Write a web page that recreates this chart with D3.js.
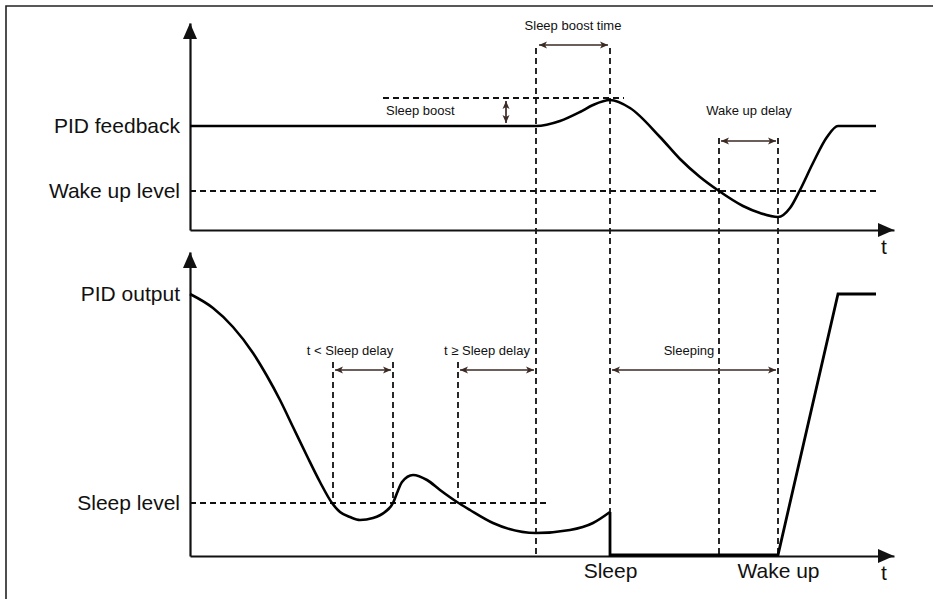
<!DOCTYPE html>
<html><head><meta charset="utf-8">
<script src="https://cdn.jsdelivr.net/npm/d3@7"></script>
<style>
body{margin:0;background:#fff}
svg{display:block}
text{font-family:"Liberation Sans",Arial,Helvetica,sans-serif;fill:#111}
</style>
</head><body>
<svg id="c" width="933" height="599"></svg>
<script>
// ---------- data (time in arbitrary units, values in arbitrary units) ----------
const levelNamesTop = ["PID feedback", "Wake up level"];
const levelValuesTop = [104, 39];
const levelNamesBottom = ["PID output", "Sleep level"];
const levelValuesBottom = [262, 53];
const eventNames = ["Sleep", "Wake up"];
const eventTimes = [420, 588];
const sleepBoostLevel = 132;
const sleepBoostSpan = [193, 434];
const wakeLevelSpan = [0, 686];
const sleepLevelSpan = [0, 356];

// PID feedback curve
const feedbackT = [0, 346, 370, 390, 403, 420, 440, 470, 490, 510, 529, 553, 570, 588, 600, 610, 623, 637, 648, 686];
const feedbackV = [104, 104, 109, 118, 125, 130, 122, 93, 71, 53, 39, 24, 17, 13, 22, 40, 67, 93, 104, 104];

// PID output curve (smooth part, before sleep)
const outputT = [0, 23, 43, 63, 77, 90, 103, 117, 130, 142, 150, 160, 170, 183, 195, 203, 207, 212, 223, 237, 250, 267, 280, 303, 346, 380, 403, 420];
const outputV = [262, 248, 229, 203, 180, 156, 129, 100, 74, 53, 44, 39, 36, 38, 44, 53, 63, 74, 81, 76, 66, 54, 46, 33, 23, 26, 33, 44];
// PID output while sleeping and after wake up (straight segments)
const sleepT = [420, 420, 588, 648, 686];
const sleepV = [44, 1, 1, 262, 262];

// vertical dashed guides: time, panel/value of top end, panel/value of bottom end
const guideT = [346, 420, 529, 588, 143, 203, 268];
const guideTopPanel = ["top", "top", "top", "top", "bottom", "bottom", "bottom"];
const guideTopV = [182, 182, 92, 92, 194, 194, 194];
const guideBottomV = [0, 0, 0, 0, 53, 53, 53];

// duration annotations
const spanLabels = ["Sleep boost time", "Wake up delay", "t < Sleep delay", "t \u2265 Sleep delay", "Sleeping"];
const spanPanel = ["top", "top", "bottom", "bottom", "bottom"];
const spanStart = [349, 531, 145, 270, 422];
const spanEnd = [418, 586, 201, 344, 586];
const spanLevel = [185, 89, 186, 186, 186];
const spanLabelT = [383, 559, 160, 297, 499];
const spanLabelV = [200, 115, 201, 201, 201];

// sleep boost amplitude annotation
const boostLabel = "Sleep boost";
const boostLabelT = 196;
const boostLabelV = 115;
const boostArrowT = 316;
const boostArrowV = [129, 107];

// ---------- scales ----------
const svg = d3.select("#c");
const x = d3.scaleLinear().domain([0, 704]).range([190, 894]);
const yTop = d3.scaleLinear().domain([0, 207]).range([230, 23]);
const yBot = d3.scaleLinear().domain([0, 304]).range([556, 252]);
const yOf = p => p === "top" ? yTop : yBot;

// ---------- frame ----------
svg.append("path").attr("d", "M6,602V6H936").attr("fill", "none")
  .attr("stroke", "#222").attr("stroke-width", 1.6);

// ---------- dashed guides ----------
const dash = "6,4";
const gDash = svg.append("g").attr("stroke", "#111").attr("stroke-width", 1.8)
  .attr("stroke-dasharray", dash).attr("fill", "none");
gDash.append("line").attr("x1", x(sleepBoostSpan[0])).attr("x2", x(sleepBoostSpan[1]))
  .attr("y1", yTop(sleepBoostLevel)).attr("y2", yTop(sleepBoostLevel));
gDash.append("line").attr("x1", x(wakeLevelSpan[0])).attr("x2", x(wakeLevelSpan[1]))
  .attr("y1", yTop(levelValuesTop[1])).attr("y2", yTop(levelValuesTop[1]));
gDash.append("line").attr("x1", x(sleepLevelSpan[0])).attr("x2", x(sleepLevelSpan[1]))
  .attr("y1", yBot(levelValuesBottom[1])).attr("y2", yBot(levelValuesBottom[1]));
guideT.forEach((t, i) => {
  gDash.append("line").attr("x1", x(t)).attr("x2", x(t))
    .attr("y1", yOf(guideTopPanel[i])(guideTopV[i])).attr("y2", yBot(guideBottomV[i]));
});

// ---------- axes ----------
function arrowHead(g, tipX, tipY, dir) {
  const L = 16, H = 7;
  let pts;
  if (dir === "up") pts = [[tipX, tipY], [tipX - H, tipY + L], [tipX + H, tipY + L]];
  else pts = [[tipX, tipY], [tipX - L, tipY - H], [tipX - L, tipY + H]];
  g.append("path").attr("d", "M" + pts.map(p => p.join(",")).join("L") + "Z").attr("fill", "#111");
}
function drawPanel(yScale, names, values, events) {
  const gy = svg.append("g").attr("transform", `translate(${x(0)},0)`)
    .call(d3.axisLeft(yScale).tickValues(values).tickFormat((d, i) => names[i])
      .tickSize(0).tickPadding(10).tickSizeOuter(0));
  gy.select(".domain").attr("stroke", "#111").attr("stroke-width", 2.2);
  gy.selectAll("text").attr("font-size", 21).attr("font-family", "Liberation Sans, Arial, sans-serif").attr("fill", "#111");
  const ax = d3.axisBottom(x).tickSize(0).tickPadding(7).tickSizeOuter(0);
  if (events) ax.tickValues(events.t).tickFormat((d, i) => events.names[i]);
  else ax.tickValues([]);
  const gx = svg.append("g").attr("transform", `translate(0,${yScale(0)})`).call(ax);
  gx.select(".domain").attr("stroke", "#111").attr("stroke-width", 2.2);
  gx.selectAll("text").attr("font-size", 21).attr("font-family", "Liberation Sans, Arial, sans-serif").attr("fill", "#111");
  arrowHead(svg, x(0), yScale.range()[1], "up");
  arrowHead(svg, x.range()[1], yScale(0), "right");
  svg.append("text").attr("x", x.range()[1] - 10).attr("y", yScale(0) + 24)
    .attr("font-size", 21).attr("text-anchor", "middle").text("t");
}
drawPanel(yTop, levelNamesTop, levelValuesTop, null);
drawPanel(yBot, levelNamesBottom, levelValuesBottom, {t: eventTimes, names: eventNames});

// ---------- curves ----------
const feedbackData = feedbackT.map((t, i) => [t, feedbackV[i]]);
const outputData = outputT.map((t, i) => [t, outputV[i]]);
const sleepData = sleepT.map((t, i) => [t, sleepV[i]]);
const smooth = d3.curveMonotoneX;
svg.append("path").datum(feedbackData)
  .attr("d", d3.line().x(d => x(d[0])).y(d => yTop(d[1])).curve(smooth))
  .attr("fill", "none").attr("stroke", "#000").attr("stroke-width", 2.6);
svg.append("path").datum(outputData)
  .attr("d", d3.line().x(d => x(d[0])).y(d => yBot(d[1])).curve(smooth))
  .attr("fill", "none").attr("stroke", "#000").attr("stroke-width", 2.6);
svg.append("path").datum(sleepData)
  .attr("d", d3.line().x(d => x(d[0])).y(d => yBot(d[1])))
  .attr("fill", "none").attr("stroke", "#000").attr("stroke-width", 2.8).attr("stroke-linejoin", "miter");

// ---------- annotations ----------
const annoColor = "#3b2a24";
function dblArrow(x0, y0, x1, y1) {
  const g = svg.append("g");
  g.append("line").attr("x1", x0).attr("y1", y0).attr("x2", x1).attr("y2", y1)
    .attr("stroke", annoColor).attr("stroke-width", 1.7);
  const len = Math.hypot(x1 - x0, y1 - y0), ux = (x1 - x0) / len, uy = (y1 - y0) / len;
  const px = -uy, py = ux;
  [[x0, y0, -1], [x1, y1, 1]].forEach(([tx, ty, s]) => {
    const bx = tx - s * ux * 8, by = ty - s * uy * 8;
    const nx = tx - s * ux * 6, ny = ty - s * uy * 6;
    g.append("path").attr("d",
      `M${tx},${ty}L${bx + px * 3.5},${by + py * 3.5}L${nx},${ny}L${bx - px * 3.5},${by - py * 3.5}Z`)
      .attr("fill", annoColor);
  });
}
spanLabels.forEach((lab, i) => {
  const ys = yOf(spanPanel[i]);
  dblArrow(x(spanStart[i]), ys(spanLevel[i]), x(spanEnd[i]), ys(spanLevel[i]));
  svg.append("text").attr("x", x(spanLabelT[i])).attr("y", ys(spanLabelV[i]))
    .attr("font-size", 13).attr("text-anchor", "middle").text(lab);
});
dblArrow(x(boostArrowT), yTop(boostArrowV[0]), x(boostArrowT), yTop(boostArrowV[1]));
svg.append("text").attr("x", x(boostLabelT)).attr("y", yTop(boostLabelV))
  .attr("font-size", 13).text(boostLabel);
</script>
</body></html>
